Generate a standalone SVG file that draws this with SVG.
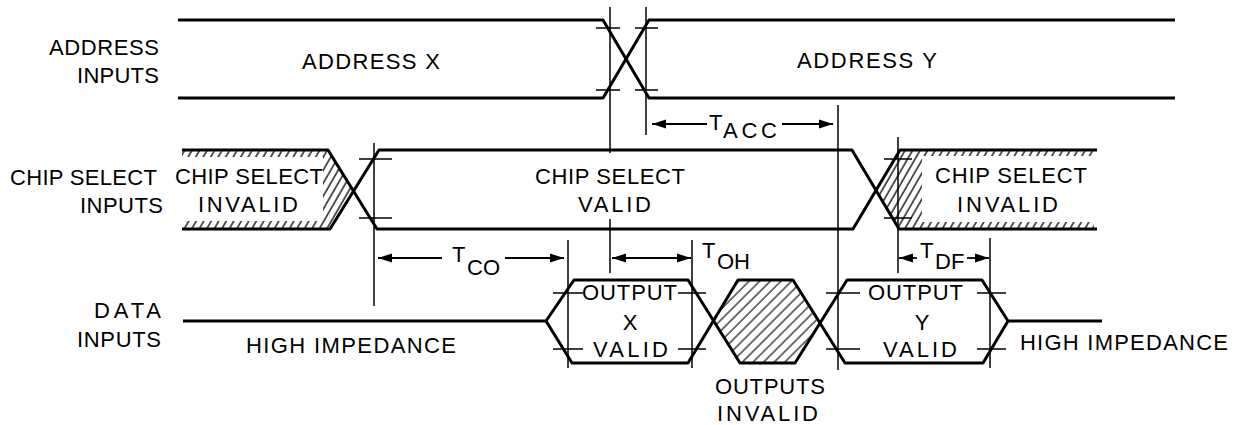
<svg xmlns="http://www.w3.org/2000/svg" width="1243" height="425" viewBox="0 0 1243 425">
<defs>
<style>
.bus{fill:none;stroke:#000;stroke-width:3;stroke-linejoin:round;stroke-linecap:butt}
.thin{fill:none;stroke:#000;stroke-width:1.5}
.arr{fill:none;stroke:#000;stroke-width:1.8;marker-end:url(#ah)}
.arrs{fill:none;stroke:#000;stroke-width:1.8;marker-start:url(#ah)}
.arrb{fill:none;stroke:#000;stroke-width:1.8;marker-start:url(#ah);marker-end:url(#ah)}
text{font-family:"Liberation Sans",Arial,Helvetica,sans-serif;font-size:22px;fill:#000}
</style>
<pattern id="hatchA" width="6.5" height="6.5" patternUnits="userSpaceOnUse" patternTransform="rotate(30)">
<line x1="1" y1="0" x2="1" y2="6.5" stroke="#000" stroke-width="1.3"/>
</pattern>
<pattern id="hatchB" width="7.5" height="7.5" patternUnits="userSpaceOnUse" patternTransform="rotate(45)">
<line x1="1" y1="0" x2="1" y2="7.5" stroke="#000" stroke-width="1.1"/>
</pattern>
<marker id="ah" markerUnits="userSpaceOnUse" markerWidth="16" markerHeight="10" refX="14" refY="5" orient="auto-start-reverse">
<path d="M0,0.5 L14,5 L0,9.5 Z" fill="#000"/>
</marker>
</defs>
<rect width="1243" height="425" fill="#fff"/>

<g id="label-address">
<text x="49" y="55" textLength="110" lengthAdjust="spacing">ADDRESS</text>
<text x="77" y="83" textLength="82" lengthAdjust="spacing">INPUTS</text>
</g>
<g id="label-chip-select">
<text x="10" y="185" textLength="147" lengthAdjust="spacing">CHIP SELECT</text>
<text x="80" y="213" textLength="83" lengthAdjust="spacing">INPUTS</text>
</g>
<g id="label-data">
<text x="94" y="318" textLength="67" lengthAdjust="spacing">DATA</text>
<text x="77" y="347" textLength="84" lengthAdjust="spacing">INPUTS</text>
</g>

<g id="address-waveform">
<polyline class="bus" points="178,20 603,20 649,98 1175,98"/>
<polyline class="bus" points="178,98 603,98 649,20 1175,20"/>
</g>
<g id="address-x"><text x="302" y="69" textLength="138" lengthAdjust="spacing">ADDRESS X</text></g>
<g id="address-y"><text x="797" y="68" textLength="140" lengthAdjust="spacing">ADDRESS Y</text></g>

<g id="cs-invalid-left">
<polygon points="182,150 328,150 353,189 330,229 182,229" fill="url(#hatchA)"/>
<rect x="182" y="157" width="141" height="64" fill="#fff"/>
<text x="175" y="184" textLength="148" lengthAdjust="spacing">CHIP SELECT</text>
<text x="198" y="212" textLength="100" lengthAdjust="spacing">INVALID</text>
</g>
<g id="cs-invalid-right">
<polygon points="876,189 900,150 1094,150 1094,229 899,229" fill="url(#hatchA)"/>
<rect x="922" y="156" width="176" height="66" fill="#fff"/>
<text x="935" y="183" textLength="152" lengthAdjust="spacing">CHIP SELECT</text>
<text x="957" y="212" textLength="101" lengthAdjust="spacing">INVALID</text>
</g>
<g id="cs-waveform">
<polyline class="bus" points="182,150 328,150 377,229 853,229 900,150 1097,150"/>
<polyline class="bus" points="182,229 330,229 379,150 852,150 899,229 1097,229"/>
</g>
<g id="cs-valid">
<text x="535" y="184" textLength="150" lengthAdjust="spacing">CHIP SELECT</text>
<text x="578" y="212" textLength="73" lengthAdjust="spacing">VALID</text>
</g>

<g id="outputs-invalid">
<polygon points="713,321 738,280 793,280 820,322 795,363 740,363" fill="url(#hatchB)"/>
<text x="715" y="394" textLength="110" lengthAdjust="spacing">OUTPUTS</text>
<text x="717" y="421" textLength="101" lengthAdjust="spacing">INVALID</text>
</g>
<g id="data-waveform">
<polyline class="bus" points="183,321 546,321 574,280 688,280 740,363 795,363 847,280 982,280 1008,321 1102,321"/>
<polyline class="bus" points="546,321 572,363 688,363 738,280 793,280 845,363 983,363 1008,321"/>
</g>
<g id="high-impedance-left"><text x="246" y="353" textLength="210" lengthAdjust="spacing">HIGH IMPEDANCE</text></g>
<g id="output-x-valid">
<text x="582" y="300" textLength="95" lengthAdjust="spacing">OUTPUT</text>
<text x="630" y="330" text-anchor="middle">X</text>
<text x="593" y="357" textLength="75" lengthAdjust="spacing">VALID</text>
</g>
<g id="output-y-valid">
<text x="868" y="300" textLength="95" lengthAdjust="spacing">OUTPUT</text>
<text x="922" y="330" text-anchor="middle">Y</text>
<text x="883" y="357" textLength="74" lengthAdjust="spacing">VALID</text>
</g>
<g id="high-impedance-right"><text x="1020" y="350" textLength="208" lengthAdjust="spacing">HIGH IMPEDANCE</text></g>

<g id="connectors">
<line class="thin" x1="610" y1="7" x2="610" y2="153"/>
<line class="thin" x1="610" y1="219" x2="610" y2="273"/>
<line class="thin" x1="646" y1="7" x2="646" y2="135"/>
<line class="thin" x1="374" y1="143" x2="374" y2="306"/>
<line class="thin" x1="838" y1="105" x2="838" y2="370"/>
<line class="thin" x1="898" y1="137" x2="898" y2="273"/>
<line class="thin" x1="568" y1="240" x2="568" y2="368"/>
<line class="thin" x1="692" y1="240" x2="692" y2="368"/>
<line class="thin" x1="990" y1="238" x2="990" y2="368"/>
<path class="thin" d="M596,28H620M596,90H620M635,28H658M635,90H658"/>
<path class="thin" d="M359,159H392M359,218H392M884,159H912M884,218H912"/>
<path class="thin" d="M553,293H583M553,349H583M678,293H706M678,349H706"/>
<path class="thin" d="M826,293H860M826,349H860M977,293H1006M977,349H1006"/>
<line class="arrs" x1="652" y1="124" x2="707" y2="124"/>
<line class="arr" x1="782" y1="124" x2="833" y2="124"/>
<line class="arrs" x1="378" y1="258" x2="442" y2="258"/>
<line class="arr" x1="505" y1="258" x2="564" y2="258"/>
<line class="arrb" x1="612" y1="258" x2="691" y2="258"/>
<line class="arrs" x1="899" y1="258" x2="917" y2="258"/>
<line class="arr" x1="967" y1="258" x2="989" y2="258"/>
</g>
<g id="t-acc"><text x="709" y="130">T</text><text x="723" y="138" textLength="54" lengthAdjust="spacing">ACC</text></g>
<g id="t-co"><text x="452" y="262">T</text><text x="467" y="275">CO</text></g>
<g id="t-oh"><text x="702" y="258">T</text><text x="717" y="269">OH</text></g>
<g id="t-df"><text x="920" y="258">T</text><text x="935" y="269">DF</text></g>
</svg>
